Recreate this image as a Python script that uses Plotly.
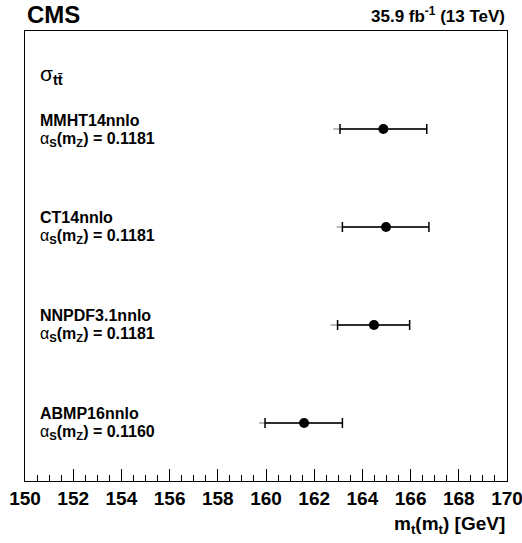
import plotly.graph_objects as go

# data
pdf_sets = ["MMHT14nnlo", "CT14nnlo", "NNPDF3.1nnlo", "ABMP16nnlo"]
alpha_s = ["0.1181", "0.1181", "0.1181", "0.1160"]
y_pos = [4, 3, 2, 1]
mt_val = [164.87, 164.98, 164.48, 161.58]
err_plus = [1.80, 1.78, 1.48, 1.59]
err_minus = [1.80, 1.81, 1.51, 1.62]
err_minus_total = [2.08, 2.05, 1.80, 1.87]
tick_vals = [150, 152, 154, 156, 158, 160, 162, 164, 166, 168, 170]

FONT = "Liberation Sans, Arial, Helvetica, sans-serif"
LX = 150.55

fig = go.Figure()
# total (outer) uncertainty, drawn behind
fig.add_trace(go.Scatter(
    x=mt_val, y=y_pos, mode="markers",
    marker=dict(size=1, color="rgba(0,0,0,0)"),
    error_x=dict(type="data", symmetric=False, array=err_plus, arrayminus=err_minus_total,
                 color="#777777", thickness=1.2, width=0),
    showlegend=False, hoverinfo="skip"))
fig.add_trace(go.Scatter(
    x=mt_val, y=y_pos, mode="markers",
    marker=dict(size=10, color="black", symbol="circle"),
    error_x=dict(type="data", symmetric=False, array=err_plus, arrayminus=err_minus,
                 color="black", thickness=1.5, width=5),
    showlegend=False))

annotations = []
for name, a, y in zip(pdf_sets, alpha_s, y_pos):
    annotations.append(dict(x=LX, y=y, xref="x", yref="y", xanchor="left", yanchor="middle",
                            yshift=9, showarrow=False, text=f"<b>{name}</b>",
                            font=dict(family=FONT, size=16, color="black")))
    annotations.append(dict(x=LX, y=y, xref="x", yref="y", xanchor="left", yanchor="middle",
                            yshift=-10, showarrow=False,
                            text=f"α<sub><b>S</b></sub><b>(m<sub>Z</sub>) = {a}</b>",
                            font=dict(family=FONT, size=16, color="black")))
annotations.append(dict(x=LX, y=4.55, xref="x", yref="y", xanchor="left", yanchor="middle",
                        showarrow=False, text="σ<sub><b>tt̄</b></sub>",
                        font=dict(family=FONT, size=21, color="black")))
annotations.append(dict(x=0, y=1, xref="paper", yref="paper", xanchor="left", yanchor="bottom",
                        yshift=1, showarrow=False, text="<b>CMS</b>",
                        font=dict(family=FONT, size=24, color="black")))
annotations.append(dict(x=1, y=1, xref="paper", yref="paper", xanchor="right", yanchor="bottom",
                        yshift=3, showarrow=False, text="<b>35.9 fb<sup>-1</sup> (13 TeV)</b>",
                        font=dict(family=FONT, size=17, color="black")))
annotations.append(dict(x=1, y=0, xref="paper", yref="paper", xanchor="right", yanchor="top",
                        yshift=-30, showarrow=False, text="<b>m<sub>t</sub>(m<sub>t</sub>) [GeV]</b>",
                        font=dict(family=FONT, size=19, color="black")))
fig.update_layout(annotations=annotations)

fig.update_xaxes(range=[150, 170], tickmode="array",
                 tickvals=tick_vals,
                 ticktext=["<b>%d</b>" % v for v in tick_vals],
                 ticks="inside", ticklen=12, tickcolor="black", tickwidth=1,
                 minor=dict(dtick=0.5, ticks="inside", ticklen=6, tickcolor="black", tickwidth=1),
                 showline=True, linecolor="black", linewidth=1, mirror=True,
                 showgrid=False, zeroline=False, automargin=False,
                 ticklabeloverflow="allow",
                 tickfont=dict(family=FONT, size=19, color="black"))
fig.update_yaxes(range=[0.408, 5.0], showticklabels=False, ticks="",
                 showline=True, linecolor="black", linewidth=1, mirror=True,
                 showgrid=False, zeroline=False, automargin=False)

fig.update_layout(width=522, height=543, margin=dict(l=25, r=15, t=31, b=62),
                  plot_bgcolor="white", paper_bgcolor="white")

fig.write_html("out.html", config={"displayModeBar": False},
               post_script="document.body.style.margin='0';document.body.style.overflow='hidden';")
